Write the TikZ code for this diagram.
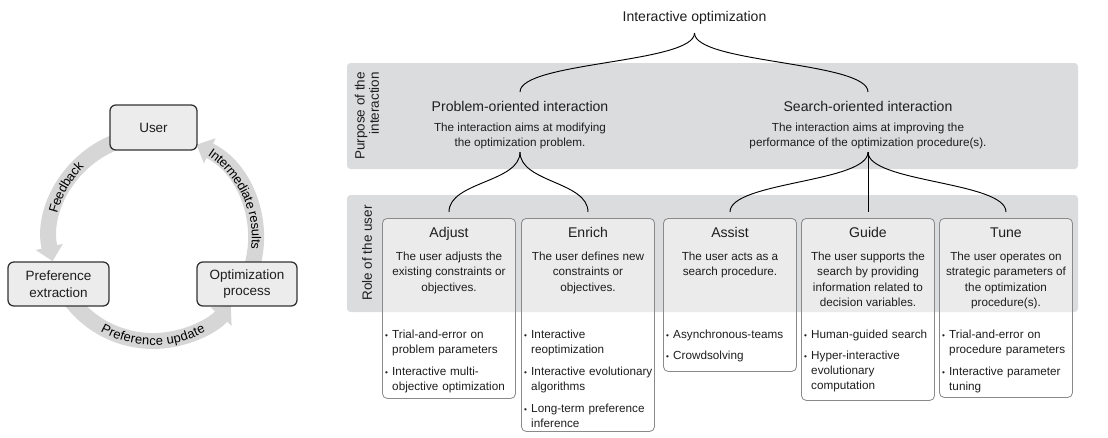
\documentclass[tikz,border=0pt]{standalone}
\usepackage{fontspec}
\setmainfont{Liberation Sans}
\usetikzlibrary{arrows.meta,positioning,calc,decorations.text}

\newdimen\px \px=0.03cm
\definecolor{bandgray}{RGB}{219,220,221}
\definecolor{framegray}{RGB}{138,138,138}
\definecolor{cyclegray}{RGB}{214,214,214}
\definecolor{cycboxgray}{RGB}{236,236,236}
\definecolor{ink}{RGB}{30,30,30}
\newcommand{\bitem}[1]{\noindent\makebox[7\px][l]{\fontsize{7}{7}\selectfont\textbullet}\begin{tabular}[t]{@{}l@{}}#1\end{tabular}\par}

\begin{document}
\begin{tikzpicture}[x=0.03cm, y=0.03cm, every node/.style={text=ink},
  band/.style={fill=bandgray, rounded corners=3pt},
  rolebox/.style={draw=framegray, line width=0.7pt, fill=white, fill opacity=0.45,
    rounded corners=4pt, minimum width=133\px, inner sep=0pt, anchor=north},
  boxtitle/.style={font=\fontsize{12}{14}\selectfont, anchor=base, inner sep=0pt},
  boxdesc/.style={font=\fontsize{10}{13}\selectfont, align=center, anchor=north, inner sep=0pt},
  boxitems/.style={font=\fontsize{10}{13}\selectfont\setlength{\parskip}{5.5\px},
    text width=140\px, align=left, anchor=north west, inner sep=0pt},
  ptitle/.style={font=\fontsize{12}{14}\selectfont, anchor=base, inner sep=0pt},
  pdesc/.style={font=\fontsize{10}{12.8}\selectfont, align=center, anchor=north, inner sep=0pt},
  sidelabel/.style={rotate=90, font=\fontsize{11.5}{12.2}\selectfont, inner sep=0pt},
  brace/.style={draw=black, line width=0.8pt},
  bracehalf/.style={out=-90, in=90, distance=26pt},
  cycbox/.style={draw=black!80, line width=1.1pt, fill=cycboxgray, rounded corners=5pt,
    font=\fontsize{11.5}{14}\selectfont, align=center, inner sep=0pt},
  cyclearrow/.style={draw=cyclegray, line width=13.6pt, -{Triangle[width=23pt,length=12.5pt]}},
  cyctext/.style={decorate, decoration={text along path, text align=center, raise=-3.6pt,
    text={|\fontsize{11}{13}\selectfont|#1}}}]
\useasboundingbox (0,0) rectangle (1108,-437);

% feedback cycle
\coordinate (cyc) at (153,-238);
\draw[cyclearrow] (cyc) ++(113:103) arc[start angle=113, end angle=193, radius=103];
\draw[cyclearrow] (cyc) ++(215:103) arc[start angle=215, end angle=319, radius=103];
\draw[cyclearrow] (cyc) ++(-18:103) arc[start angle=-18, end angle=65, radius=103];
\path[cyctext=Feedback] (cyc) ++(190:103) arc[start angle=190, end angle=110, radius=103];
\path[cyctext=Preference update] (cyc) ++(215:103) arc[start angle=215, end angle=325, radius=103];
\path[cyctext=Intermediate results] (cyc) ++(65:103) arc[start angle=65, end angle=-15, radius=103];
\node[cycbox, minimum width=87\px, minimum height=45\px] (user) at (153.5,-127.5) {User};
\node[cycbox, minimum width=101\px, minimum height=44\px] (prefext) at (58.5,-284) {Preference\\extraction};
\node[cycbox, minimum width=100\px, minimum height=44\px] (optproc) at (247,-284) {Optimization\\process};

% bands
\path[band] (347,-63) rectangle (1078,-169);
\path[band] (347,-195) rectangle (1078,-312);
\node[sidelabel, align=right] (purposelbl) at (367,-116) {Purpose of the\\interaction};
\node[sidelabel] (rolelbl) at (367,-253) {Role of the user};

% purpose of the interaction
\node[ptitle] (intopt) at (694.5,-21) {Interactive optimization};
\node[ptitle] (probt) at (520,-111) {Problem-oriented interaction};
\node[pdesc] (probd) at (520,-122.7) {The interaction aims at modifying\\the optimization problem.};
\node[ptitle] (searcht) at (868,-111) {Search-oriented interaction};
\node[pdesc] (searchd) at (868,-122.7) {The interaction aims at improving the\\performance of the optimization procedure(s).};

% role of the user
\node[rolebox, minimum height=180\px] (adjust) at (449,-218) {};
\node[rolebox, minimum height=213\px] (enrich) at (588,-218) {};
\node[rolebox, minimum height=153\px] (assist) at (730,-218) {};
\node[rolebox, minimum height=182\px] (guide) at (868,-218) {};
\node[rolebox, minimum height=179\px] (tune) at (1006,-218) {};

\node[boxtitle] (adjustt) at (449,-237) {Adjust};
\node[boxtitle] (enricht) at (588,-237) {Enrich};
\node[boxtitle] (assistt) at (730,-237) {Assist};
\node[boxtitle] (guidet) at (868,-237) {Guide};
\node[boxtitle] (tunet) at (1006,-237) {Tune};

\node[boxdesc] (adjustd) at (449,-252) {The user adjusts the\\existing constraints or\\objectives.};
\node[boxdesc] (enrichd) at (588,-252) {The user defines new\\constraints or\\objectives.};
\node[boxdesc] (assistd) at (730,-252) {The user acts as a\\search procedure.};
\node[boxdesc] (guided) at (868,-252) {The user supports the\\search by providing\\information related to\\decision variables.};
\node[boxdesc] (tuned) at (1006,-252) {The user operates on\\strategic parameters of\\the optimization\\procedure(s).};

\node[boxitems] (adjusti) at (385,-327.5) {\bitem{Trial-and-error on\\problem parameters}\bitem{Interactive multi-\\objective optimization}};
\node[boxitems] (enrichi) at (524,-327.5) {\bitem{Interactive\\reoptimization}\bitem{Interactive evolutionary\\algorithms}\bitem{Long-term preference\\inference}};
\node[boxitems] (assisti) at (666,-327.5) {\bitem{Asynchronous-teams}\bitem{Crowdsolving}};
\node[boxitems] (guidei) at (804,-327.5) {\bitem{Human-guided search}\bitem{Hyper-interactive\\evolutionary\\computation}};
\node[boxitems] (tunei) at (942,-327.5) {\bitem{Trial-and-error on\\procedure parameters}\bitem{Interactive parameter\\tuning}};

% braces
\coordinate (toptip) at ($(intopt.base)+(0,-12)$);
\draw[brace] (toptip) to[bracehalf] ($(probt.base)+(0,19)$);
\draw[brace] (toptip) to[bracehalf] ($(searcht.base)+(0,19)$);
\coordinate (probtip) at ($(probd.south)+(0,-3)$);
\draw[brace] (probtip) to[bracehalf] ($(adjust.north)+(0,6)$);
\draw[brace] (probtip) to[bracehalf] ($(enrich.north)+(0,6)$);
\coordinate (searchtip) at ($(searchd.south)+(0,-3)$);
\draw[brace] (searchtip) to[bracehalf] ($(assist.north)+(0,6)$);
\draw[brace] (searchtip) to[bracehalf] ($(tune.north)+(0,6)$);
\draw[brace] (searchtip) -- ($(guide.north)+(0,6)$);
\end{tikzpicture}
\end{document}
